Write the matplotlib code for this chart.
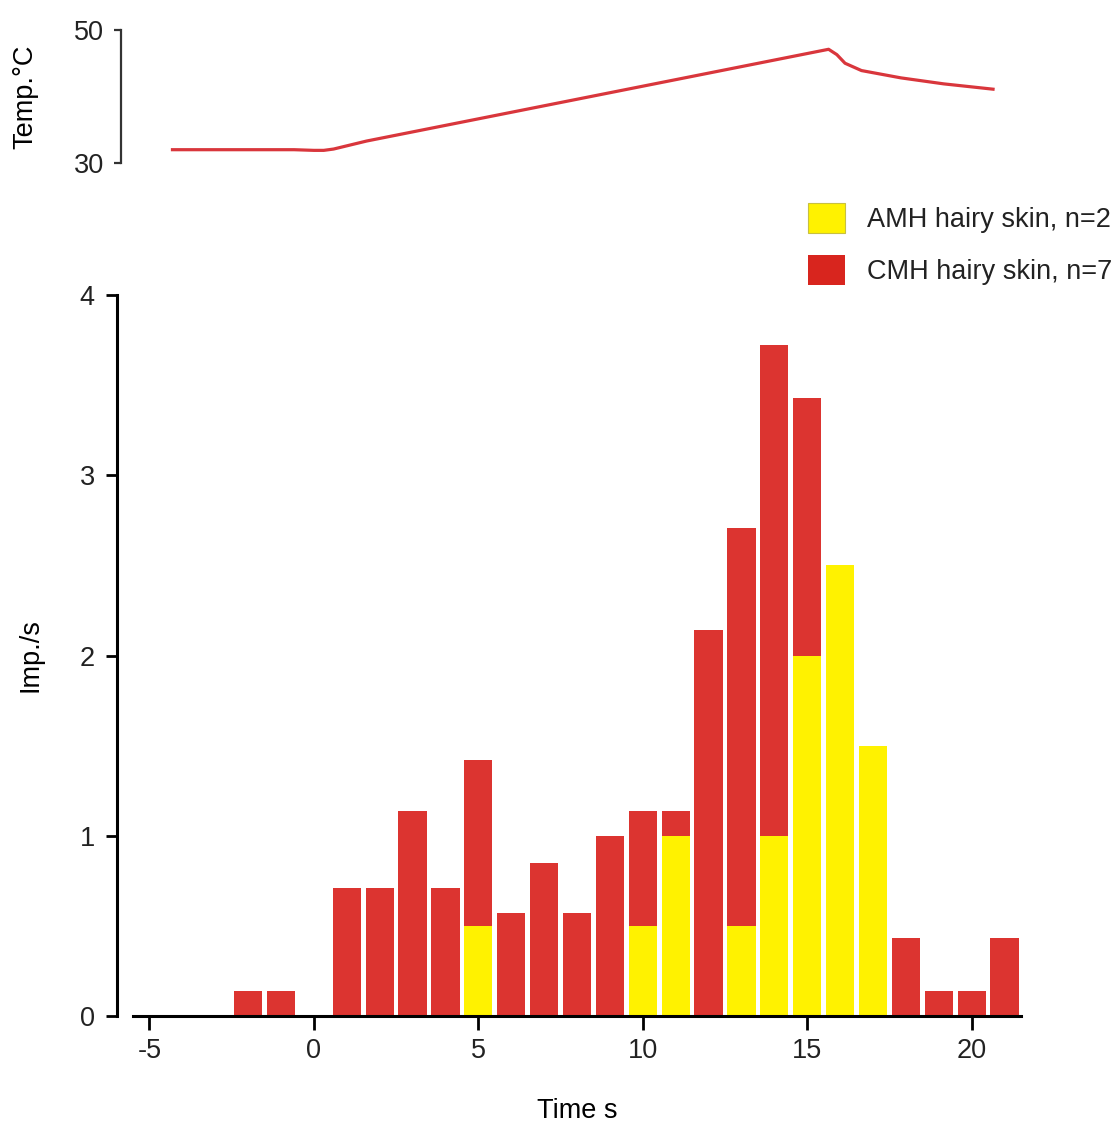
import matplotlib
matplotlib.use("Agg")
import matplotlib.pyplot as plt
from matplotlib.patches import Patch
import numpy as np

plt.rcParams['font.family'] = ['Liberation Sans', 'DejaVu Sans']
plt.rcParams['axes.unicode_minus'] = False
plt.rcParams['text.color'] = '#222222'
plt.rcParams['xtick.labelcolor'] = '#222222'
plt.rcParams['ytick.labelcolor'] = '#222222'

# histogram bins (s) and mean discharge (imp./s)
times = [-2, -1, 0, 1, 2, 3, 4, 5, 6, 7, 8, 9, 10, 11, 12, 13, 14, 15, 16, 17, 18, 19, 20, 21]
cmh = [0.14, 0.14, 0, 0.71, 0.71, 1.14, 0.71, 1.42, 0.57, 0.85, 0.57, 1.0,
       1.14, 1.14, 2.14, 2.71, 3.72, 3.43, 2.14, 0, 0.43, 0.14, 0.14, 0.43]
amh = [0, 0, 0, 0, 0, 0, 0, 0.5, 0, 0, 0, 0,
       0.5, 1.0, 0, 0.5, 1.0, 2.0, 2.5, 1.5, 0, 0, 0, 0]

# temperature trace
temp_t = [-4.3, -2.0, -0.6, 0.0, 0.3, 0.6, 1.6, 15.65, 15.9, 16.15, 16.65, 17.85, 19.15, 20.65]
temp_c = [32.0, 32.0, 32.0, 31.9, 31.9, 32.1, 33.3, 47.1, 46.3, 45.0, 43.9, 42.8, 41.9, 41.1]

red = '#dc3430'
yellow = '#fff200'
W, H = 1116, 1124
fs = 19.5

fig = plt.figure(figsize=(W / 100, H / 100), dpi=100)

# bar chart
ax = fig.add_axes([133 / W, 108 / H, 888 / W, 721 / H])
ax.bar(times, cmh, width=0.86, color=red, zorder=2)
ax.bar(times, amh, width=0.86, color=yellow, zorder=3)
ax.set_xlim(-5.5, 21.5)
ax.set_ylim(0, 4)
ax.spines['top'].set_visible(False)
ax.spines['right'].set_visible(False)
ax.spines['left'].set_position(('outward', 11.5))
for s in ['left', 'bottom']:
    ax.spines[s].set_linewidth(2.2)
    ax.spines[s].set_zorder(5)
ax.set_xticks([-5, 0, 5, 10, 15, 20])
ax.set_yticks([0, 1, 2, 3, 4])
ax.tick_params(axis='y', length=8, width=2, pad=8, labelsize=fs)
ax.tick_params(axis='x', length=10, width=2, pad=6, labelsize=fs)
ax.set_xlabel('Time s', fontsize=fs, labelpad=24)
ax.set_ylabel('Imp./s', fontsize=fs, labelpad=26)

# temperature panel
axt = fig.add_axes([133 / W, (H - 163) / H, 888 / W, 133 / H])
axt.plot(temp_t, temp_c, color='#d9363c', lw=2.3)
axt.set_xlim(-5.5, 21.5)
axt.set_ylim(30, 50)
for s in ['top', 'right', 'bottom']:
    axt.spines[s].set_visible(False)
axt.spines['left'].set_position(('outward', 8.6))
axt.spines['left'].set_linewidth(1.6)
axt.spines['left'].set_color('#333333')
axt.set_xticks([])
axt.set_yticks([30, 50])
axt.tick_params(axis='y', length=5, width=1.6, color='#333333', pad=7, labelsize=fs)
axt.set_ylabel('Temp.°C', fontsize=fs, labelpad=26)

handles = [Patch(facecolor=yellow, edgecolor='#c8c040', lw=0.8, label='AMH hairy skin, n=2'),
           Patch(facecolor='#d8251e', edgecolor='none', label='CMH hairy skin, n=7')]
fig.legend(handles=handles, loc='upper left', bbox_to_anchor=(808 / W, 1 - 203 / H),
           frameon=False, fontsize=fs, borderpad=0, borderaxespad=0,
           handlelength=1.37, handleheight=1.3, handletextpad=0.81, labelspacing=0.82)

fig.savefig('out.png', dpi=100)
